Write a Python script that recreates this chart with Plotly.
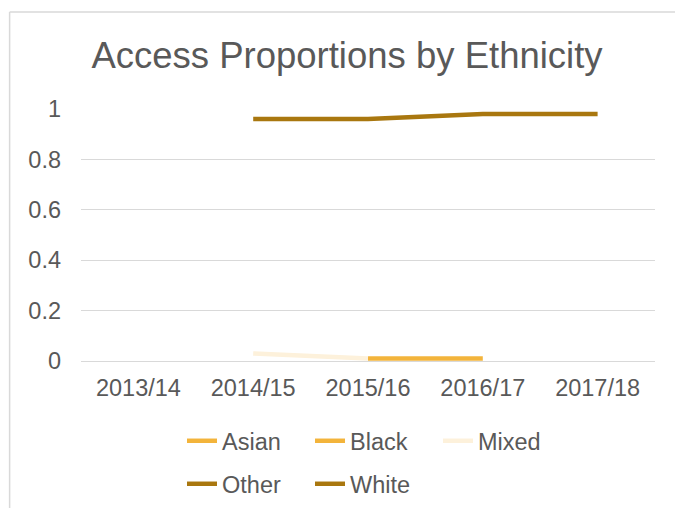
import plotly.graph_objects as go

categories = ["2013/14", "2014/15", "2015/16", "2016/17", "2017/18"]
asian = [None, None, None, None, None]
black = [None, None, 0.01, 0.01, None]
mixed = [None, 0.03, 0.01, None, None]
other = [None, None, None, None, None]
white = [None, 0.96, 0.96, 0.98, 0.98]

series = [
    ("Asian", asian, "#F3B43B", "legend"),
    ("Black", black, "#F3B43B", "legend"),
    ("Mixed", mixed, "#FDF1DB", "legend"),
    ("Other", other, "#A9770F", "legend2"),
    ("White", white, "#A9770F", "legend2"),
]

W, H = 675, 508
L, R, T, B = 80.5, 655.5, 109, 361

fig = go.Figure()
for name, vals, col, lg in series:
    fig.add_trace(go.Scatter(
        x=categories, y=vals, name=name, mode="lines",
        line=dict(color=col, width=4.5), legend=lg, connectgaps=False,
    ))

FAM = "Liberation Sans, Arial, sans-serif"
font = dict(family=FAM, size=23.5, color="#595959")

fig.update_layout(
    width=W, height=H,
    margin=dict(l=L, r=W - R, t=T, b=H - B, pad=0),
    paper_bgcolor="white", plot_bgcolor="white",
    font=font,
    title=dict(text="Access Proportions by Ethnicity", x=347 / W, xanchor="center",
               y=1 - 55 / H, yanchor="middle", xref="container", yref="container",
               font=dict(family=FAM, size=36.5, color="#595959")),
    xaxis=dict(type="category", range=[-0.5, 4.5], showgrid=False, showline=False,
               zeroline=False, ticks="", tickfont=font, fixedrange=True,
               ticklabelstandoff=10),
    yaxis=dict(range=[0, 1], dtick=0.2, tick0=0, showgrid=True, gridcolor="#D9D9D9",
               gridwidth=1, zeroline=True, zerolinecolor="#D9D9D9", zerolinewidth=1,
               showline=False, ticks="", tickfont=font, ticklabelstandoff=19),
    legend=dict(orientation="h", xref="container", yref="container",
                x=182 / W, xanchor="left", y=1 - 419 / H, yanchor="top",
                entrywidth=83, entrywidthmode="pixels", font=font,
                bgcolor="rgba(0,0,0,0)", tracegroupgap=0),
    legend2=dict(orientation="h", xref="container", yref="container",
                 x=182 / W, xanchor="left", y=1 - 462 / H, yanchor="top",
                 entrywidth=83, entrywidthmode="pixels", font=font,
                 bgcolor="rgba(0,0,0,0)"),
    showlegend=True,
)

# outer chart border (top and left edges visible)
pw, ph = R - L, B - T
def px_x(p):
    return (p - L) / pw
def px_y(p):
    return (B - p) / ph
fig.add_shape(type="line", xref="paper", yref="paper",
              x0=px_x(9), x1=px_x(680), y0=px_y(12), y1=px_y(12),
              line=dict(color="#D9D9D9", width=1.5))
fig.add_shape(type="line", xref="paper", yref="paper",
              x0=px_x(9), x1=px_x(9), y0=px_y(12), y1=px_y(515),
              line=dict(color="#D9D9D9", width=1.5))

fig.write_html("out.html")
